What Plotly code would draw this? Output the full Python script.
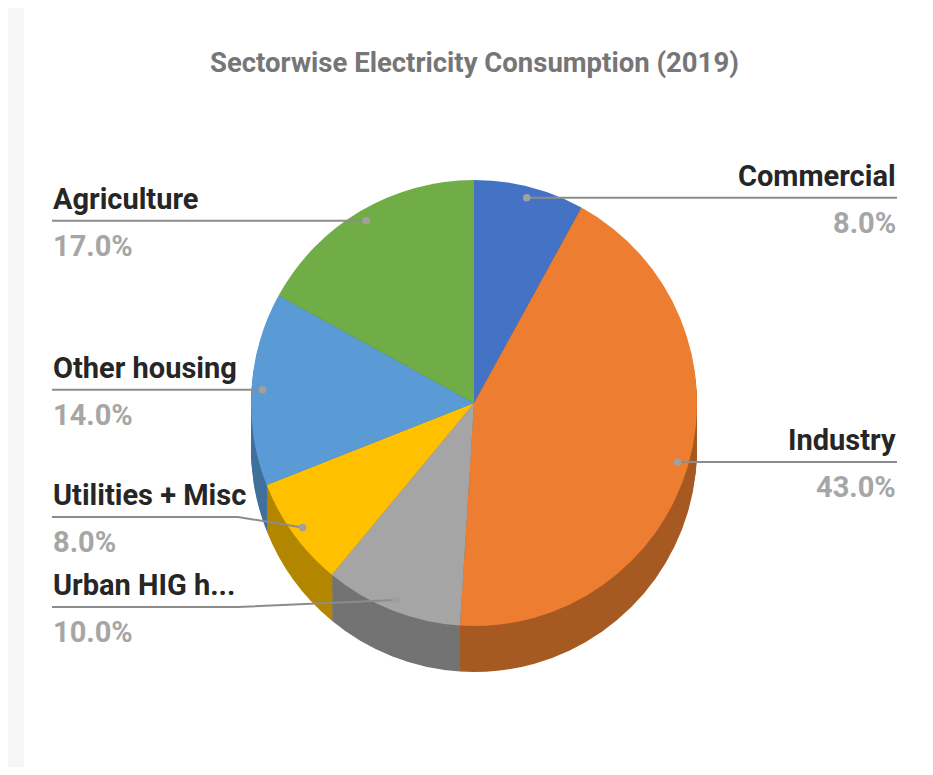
import math
import plotly.graph_objects as go

# ---------------- data ----------------
categories = ["Commercial", "Industry", "Urban HIG h...", "Utilities + Misc", "Other housing", "Agriculture"]
shares = [8.0, 43.0, 10.0, 8.0, 14.0, 17.0]
top_colors = ["#4472C4", "#ED7D31", "#A5A5A5", "#FFC000", "#5B9BD5", "#70AD47"]
side_colors = ["#2F528F", "#A65A22", "#737373", "#B38600", "#41719C", "#4E7A31"]
label_side = ["right", "right", "left", "left", "left", "left"]
title_text = "Sectorwise Electricity Consumption (2019)"

# ---------------- layout constants (page pixels) ----------------
PAGE_W, PAGE_H = 933, 775
OFF = 8                      # default body margin of the html page
W, H = PAGE_W - OFF, PAGE_H - 2 * OFF
CX, CY, R = 474, 403, 223
DEPTH, STEP = 46, 2
DOT_FRAC = 0.95
LEFT_X, RIGHT_X = 52, 897
underline_override = {"Utilities + Misc": 517, "Urban HIG h...": 607}
BEND_X = 238
FONT = "Roboto, Liberation Sans, sans-serif"
LABEL_SIZE = 29


def px(x):
    return (x - OFF) / W


def py(y):
    return 1 - (y - OFF) / H


def domain_for(cy):
    return dict(x=[px(CX - R), px(CX + R)], y=[py(cy + R), py(cy - R)])


fig = go.Figure()

# extruded side: stack of darker pies, deepest first
for k in range(DEPTH, 0, -STEP):
    fig.add_trace(go.Pie(
        labels=categories, values=shares, sort=False, direction="clockwise", rotation=0,
        marker=dict(colors=side_colors, line=dict(width=0)),
        textinfo="none", hoverinfo="skip", showlegend=False,
        domain=domain_for(CY + k),
    ))

# top face
fig.add_trace(go.Pie(
    labels=categories, values=shares, sort=False, direction="clockwise", rotation=0,
    marker=dict(colors=top_colors, line=dict(width=0)),
    textinfo="none", hoverinfo="label+percent", showlegend=False,
    domain=domain_for(CY),
))

shapes = []
annotations = []

# card frame / shadow
shapes += [
    dict(type="rect", xref="paper", yref="paper", x0=0, x1=px(24), y0=0, y1=1,
         fillcolor="#f6f6f6", line=dict(width=0), layer="below"),
    dict(type="rect", xref="paper", yref="paper", x0=px(925), x1=1, y0=0, y1=py(40),
         fillcolor="#959595", line=dict(width=0), layer="above"),
    dict(type="rect", xref="paper", yref="paper", x0=px(925), x1=1, y0=py(40), y1=1,
         fillcolor="#c4c4c4", line=dict(width=0), layer="above"),
]

total = sum(shares)
cum = 0.0
for name, val, side in zip(categories, shares, label_side):
    mid = (cum + val / 2) / total * 2 * math.pi
    cum += val
    dx = CX + DOT_FRAC * R * math.sin(mid)
    dy = CY - DOT_FRAC * R * math.cos(mid)
    uy = underline_override.get(name, dy)
    if side == "left":
        x_text = LEFT_X
        bend = BEND_X if name in underline_override else dx
        xanchor = "left"
    else:
        x_text = RIGHT_X
        bend = dx
        xanchor = "right"
    path = f"M {px(x_text)},{py(uy)} L {px(bend)},{py(uy)} L {px(dx)},{py(dy)}"
    shapes.append(dict(type="path", xref="paper", yref="paper", path=path,
                       line=dict(color="#8c8c8c", width=2), layer="above"))
    rr = 3.8
    shapes.append(dict(type="circle", xref="paper", yref="paper",
                       x0=px(dx - rr), x1=px(dx + rr), y0=py(dy + rr), y1=py(dy - rr),
                       fillcolor="#a0a0a0", line=dict(width=0), layer="above"))
    annotations.append(dict(
        text=f"<b>{name}</b>", xref="paper", yref="paper", x=px(x_text), y=py(uy - 4),
        xanchor=xanchor, yanchor="bottom", showarrow=False, borderpad=0,
        font=dict(family=FONT, size=LABEL_SIZE, color="#262626"),
    ))
    annotations.append(dict(
        text=f"<b>{val:.1f}%</b>", xref="paper", yref="paper", x=px(x_text), y=py(uy + 7),
        xanchor=xanchor, yanchor="top", showarrow=False, borderpad=0,
        font=dict(family=FONT, size=LABEL_SIZE, color="#a6a6a6"),
    ))

annotations.append(dict(
    text=f"<b>{title_text}</b>", xref="paper", yref="paper", x=px(475), y=py(45),
    xanchor="center", yanchor="top", showarrow=False, borderpad=0,
    font=dict(family=FONT, size=27.5, color="#767676"),
))

fig.update_layout(
    width=W, height=H,
    margin=dict(l=0, r=0, t=0, b=0),
    paper_bgcolor="#ffffff", plot_bgcolor="#ffffff",
    shapes=shapes, annotations=annotations,
    showlegend=False,
)

fig.write_html("out.html")
